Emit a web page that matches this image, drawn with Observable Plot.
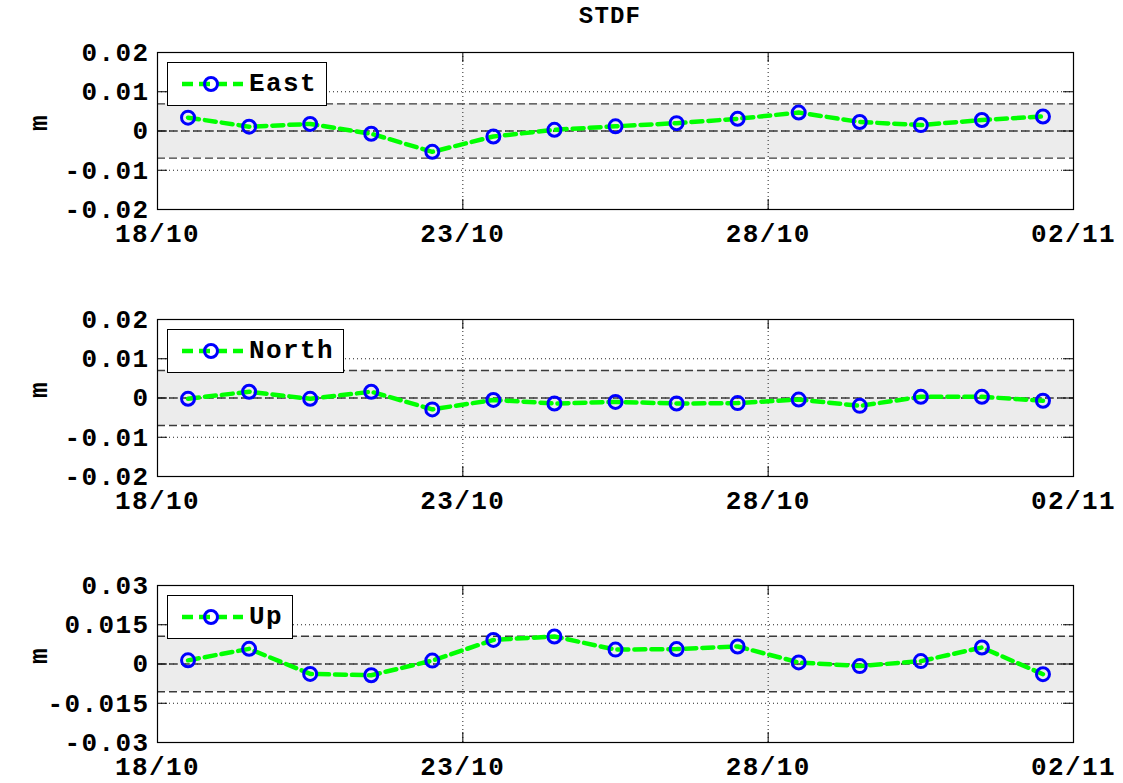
<!DOCTYPE html>
<html>
<head>
<meta charset="utf-8">
<script src="https://cdn.jsdelivr.net/npm/d3@7"></script>
<script src="https://cdn.jsdelivr.net/npm/@observablehq/plot@0.6"></script>
<style>
  html, body { margin: 0; padding: 0; background: #fff; overflow: hidden; }
  #root { position: relative; width: 1123px; height: 783px; font-family: "Liberation Mono", monospace; font-weight: bold; }
  .title { position: absolute; left: 0; width: 1220px; top: 3px; text-align: center; font-size: 24px; letter-spacing: 1.2px; }
  .panel { position: absolute; left: 0; }
  .legend { position: absolute; left: 167px; height: 44px; box-sizing: border-box; border: 1px solid #000; background: #fff;
            display: flex; align-items: center; padding-right: 9px; font-size: 26px; letter-spacing: 1.4px; }
  .legend svg { display: block; }
</style>
</head>
<body>
<div id="root"></div>
<script>
// ---- data ----
const dates = [
  "2014-10-18T12:00Z","2014-10-19T12:00Z","2014-10-20T12:00Z","2014-10-21T12:00Z","2014-10-22T12:00Z",
  "2014-10-23T12:00Z","2014-10-24T12:00Z","2014-10-25T12:00Z","2014-10-26T12:00Z","2014-10-27T12:00Z",
  "2014-10-28T12:00Z","2014-10-29T12:00Z","2014-10-30T12:00Z","2014-10-31T12:00Z","2014-11-01T12:00Z"
];
const east  = [0.0034, 0.0011, 0.0018, -0.0007, -0.0053, -0.0014, 0.0003, 0.0012, 0.0020, 0.0031, 0.0047, 0.0023, 0.0015, 0.0028, 0.0037];
const north = [-0.0002, 0.0016, -0.0002, 0.0016, -0.0029, -0.0005, -0.0014, -0.0010, -0.0014, -0.0013, -0.0004, -0.0020, 0.0003, 0.0003, -0.0007];
const up    = [0.0014, 0.0058, -0.0038, -0.0043, 0.0013, 0.0092, 0.0105, 0.0055, 0.0057, 0.0067, 0.0006, -0.0008, 0.0011, 0.0063, -0.0039];

const seriesNames = ["East", "North", "Up"];
const thresholds = [0.0069, 0.0070, 0.0106];
const xDomain = ["2014-10-18", "2014-11-02"];
const xTicks = ["2014-10-18", "2014-10-23", "2014-10-28", "2014-11-02"];
const xTickLabels = ["18/10", "23/10", "28/10", "02/11"];
const yTicksEN = [-0.02, -0.01, 0, 0.01, 0.02];
const yTickLabelsEN = ["-0.02", "-0.01", "0", "0.01", "0.02"];
const yTicksU = [-0.03, -0.015, 0, 0.015, 0.03];
const yTickLabelsU = ["-0.03", "-0.015", "0", "0.015", "0.03"];
const titleText = "STDF";
const yLabel = "m";

// ---- layout ----
const W = 1123, mL = 157, mR = 1123 - 1073, mT = 20, mB = 38, innerH = 157;
const panelTops = [52, 319, 584.5];

const root = document.getElementById("root");
const t = document.createElement("div");
t.className = "title";
t.textContent = titleText;
root.appendChild(t);

const xd = xDomain.map(s => new Date(s));
const xt = xTicks.map(s => new Date(s));
const xLabelMap = new Map(xt.map((d, i) => [+d, xTickLabels[i]]));

function makePanel(values, name, thresh, yTicks, yTickLabels, top) {
  const data = dates.map((d, i) => ({date: new Date(d), v: values[i]}));
  const yd = [yTicks[0], yTicks[yTicks.length - 1]];
  const yLabelMap = new Map(yTicks.map((v, i) => [v, yTickLabels[i]]));
  const innerW = W - mL - mR;
  const chart = Plot.plot({
    width: W,
    height: mT + innerH + mB,
    marginLeft: mL, marginRight: mR, marginTop: mT, marginBottom: mB,
    style: {fontFamily: "Liberation Mono, monospace", fontWeight: "bold", fontSize: "26px", letterSpacing: "1.4px", background: "transparent", overflow: "visible"},
    x: {type: "utc", domain: xd},
    y: {domain: yd},
    marks: [
      Plot.rect([{x1: xd[0], x2: xd[1], y1: -thresh, y2: thresh}], {x1: "x1", x2: "x2", y1: "y1", y2: "y2", fill: "#ececec"}),
      Plot.ruleY(yTicks.slice(1, -1), {stroke: "#222", strokeWidth: 1, strokeDasharray: "1,3"}),
      Plot.ruleX(xt.slice(1, -1), {stroke: "#222", strokeWidth: 1, strokeDasharray: "1,3"}),
      Plot.ruleY([-thresh, 0, thresh], {stroke: "#3a3a3a", strokeWidth: 1.4, strokeDasharray: "8,4"}),
      Plot.frame({stroke: "#000", strokeWidth: 1.2}),
      Plot.tickY(yTicks, {insetRight: innerW - 10, stroke: "#000"}),
      Plot.tickY(yTicks, {insetLeft: innerW - 10, stroke: "#000"}),
      Plot.tickX(xt, {insetTop: innerH - 10, stroke: "#000"}),
      Plot.tickX(xt, {insetBottom: innerH - 10, stroke: "#000"}),
      Plot.axisY({ticks: yTicks, tickSize: 0, tickPadding: 8, tickFormat: v => yLabelMap.get(v), label: null, fill: "#000"}),
      Plot.axisX({ticks: xt, tickSize: 0, tickPadding: 14, tickFormat: d => xLabelMap.get(+d), label: null, fill: "#000"}),
      Plot.text([yLabel], {text: d => d, frameAnchor: "left", dx: -119, rotate: -90, fill: "#000"}),
      Plot.line(data, {x: "date", y: "v", stroke: "#00ff00", strokeWidth: 4.5, strokeDasharray: "11,6"}),
      Plot.dot(data, {x: "date", y: "v", r: 6.5, stroke: "#0000ff", strokeWidth: 3, fill: "none"})
    ]
  });
  chart.classList.add("panel");
  chart.style.position = "absolute";
  chart.style.top = (top - mT) + "px";
  root.appendChild(chart);

  const lg = document.createElement("div");
  lg.className = "legend";
  lg.style.top = (top + 10) + "px";
  lg.innerHTML = `<svg width="81" height="42"><line x1="14" x2="75" y1="21" y2="21" stroke="#00ff00" stroke-width="4.5" stroke-dasharray="11,6"/><circle cx="43" cy="21" r="6.5" fill="none" stroke="#0000ff" stroke-width="3"/></svg><span>${name}</span>`;
  root.appendChild(lg);
}

makePanel(east, seriesNames[0], thresholds[0], yTicksEN, yTickLabelsEN, panelTops[0]);
makePanel(north, seriesNames[1], thresholds[1], yTicksEN, yTickLabelsEN, panelTops[1]);
makePanel(up, seriesNames[2], thresholds[2], yTicksU, yTickLabelsU, panelTops[2]);
</script>
</body>
</html>
